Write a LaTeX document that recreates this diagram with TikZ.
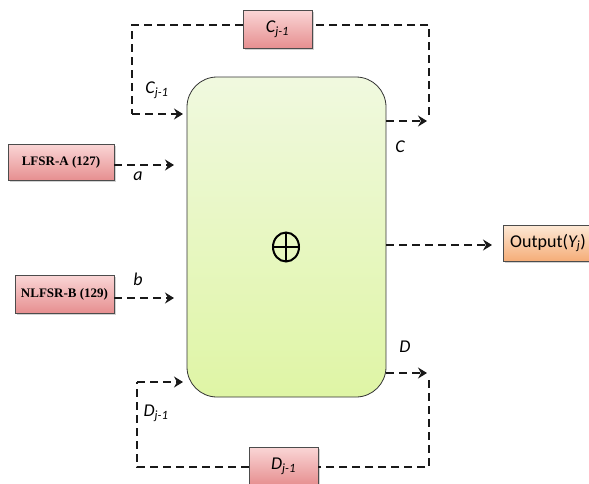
\documentclass[tikz,border=0pt]{standalone}
\usepackage{fontspec}
\setmainfont{Liberation Serif}
\newfontfamily\calfont{Carlito}
\usetikzlibrary{arrows.meta,shadows,shapes.geometric}
\definecolor{pinkT}{HTML}{FAD6D6}
\definecolor{pinkB}{HTML}{E68F90}
\definecolor{grnT}{HTML}{F0F9DF}
\definecolor{grnB}{HTML}{DFF5A5}
\definecolor{orT}{HTML}{FDE9D6}
\definecolor{orB}{HTML}{F5AD78}
\newcommand{\mysb}[1]{\textsubscript{#1}}
\tikzset{
  dl/.style={line width=2.8pt, dash pattern=on 8pt off 5pt, black!90},
  arr/.style={dl, -{Stealth[length=9pt,width=11pt,inset=3pt]}},
  pinkbox/.style={draw=black!70, line width=0.6pt, top color=pinkT, bottom color=pinkB,
    drop shadow={shadow xshift=1.5pt, shadow yshift=-1.5pt, opacity=0.35}, inner sep=0pt},
  lbl/.style={font=\calfont\itshape\fontsize{18}{18}\selectfont},
  sbox/.style={font=\bfseries\fontsize{13}{13}\selectfont},
}
\begin{document}
\begin{tikzpicture}[x=1pt,y=-1pt]
\useasboundingbox (0,0) rectangle (589,483);
\clip (0,0) rectangle (589,483);
\fill[white] (0,0) rectangle (589,483);
% main box
\node[draw=black!80, line width=0.8pt, rounded corners=30pt, top color=grnT, bottom color=grnB,
  minimum width=199pt, minimum height=320pt, inner sep=0pt] (main) at (286.5,237) {};
\node[ellipse, draw, line width=2pt, minimum width=26pt, minimum height=29pt, inner sep=0pt,
  path picture={\draw[line width=2pt] (path picture bounding box.north) -- (path picture bounding box.south)
    (path picture bounding box.west) -- (path picture bounding box.east);}] (xor) at (286,247) {};
% input boxes
\node[pinkbox, minimum width=106pt, minimum height=36pt, sbox] (lfsr) at (61,162) {LFSR-A (127)};
\node[pinkbox, minimum width=99pt, minimum height=38pt, sbox] (nlfsr) at (64.5,294) {NLFSR-B (129)};
% feedback boxes
\node[pinkbox, minimum width=69pt, minimum height=38pt, lbl] (cb) at (277.5,29) {C\mysb{j-1}};
\node[pinkbox, minimum width=69pt, minimum height=38pt, lbl] (db) at (283.5,466) {D\mysb{j-1}};
% output
\node[draw=black!70, line width=0.6pt, top color=orT, bottom color=orB, anchor=west,
  minimum width=130pt, minimum height=36pt, inner sep=0pt,
  drop shadow={shadow xshift=1.5pt, shadow yshift=-1.5pt, opacity=0.35}] (out) at (503,243) {};
\node[anchor=west, inner sep=0pt, font=\calfont\fontsize{18}{18}\selectfont] (outt) at (510,243) {Output(\textit{Y\mysb{j}})};
% coordinates
\coordinate (ctl) at (132,25);
\coordinate (cbl) at (132,114);
\coordinate (cin) at (183,114);
\coordinate (cout) at (427,121);
\coordinate (crb) at (429,115);
\coordinate (crt) at (429,25);
\coordinate (dbl) at (137,467);
\coordinate (dtl) at (137,382);
\coordinate (din) at (183,382);
\coordinate (dout) at (427,373);
\coordinate (drt) at (429,380);
\coordinate (drb) at (429,467);
\coordinate (ain) at (174,165);
\coordinate (bin) at (174,298);
\coordinate (oin) at (492,245);
% connectors
\draw[arr] (lfsr.east |- ain) -- (ain);
\draw[arr] (nlfsr.east |- bin) -- (bin);
\draw[arr] (main.east |- oin) -- (oin);
\draw[dl] (cb.west |- ctl) -- (ctl) -- (cbl);
\draw[arr] (cbl) -- (cin);
\draw[arr] (main.east |- cout) -- (cout);
\draw[dl] (crb) -- (crt) -- (cb.east |- crt);
\draw[dl] (db.west |- dbl) -- (dbl) -- (dtl);
\draw[arr] (dtl) -- (din);
\draw[arr] (main.east |- dout) -- (dout);
\draw[dl] (drt) -- (drb) -- (db.east |- drb);
% labels
\node[lbl] (lc1) at (157,90) {C\mysb{j-1}};
\node[lbl] (lc) at (400,147) {C};
\node[lbl] (la) at (138,176) {a};
\node[lbl] (lb) at (138,279) {b};
\node[lbl] (ld) at (405,347) {D};
\node[lbl] (ld1) at (156,413) {D\mysb{j-1}};
\end{tikzpicture}
\end{document}
